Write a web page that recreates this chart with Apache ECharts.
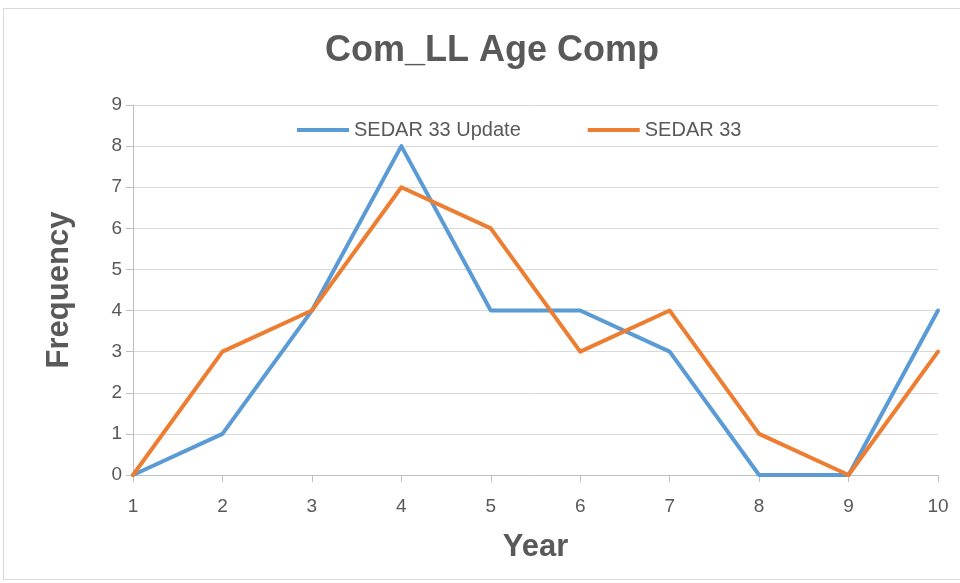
<!DOCTYPE html>
<html>
<head>
<meta charset="utf-8">
<script src="https://cdn.jsdelivr.net/npm/echarts@6/dist/echarts.min.js"></script>
<style>
  html, body { margin: 0; padding: 0; background: #fff; }
  #frame { position: absolute; left: 3px; top: 8px; width: 970px; height: 572px; border: 1px solid #d9d9d9; box-sizing: border-box; }
  #chart { width: 960px; height: 583px; position: absolute; left: 0; top: 0; }
</style>
</head>
<body>
<div id="frame"></div>
<div id="chart"></div>
<script>
var years = ['1', '2', '3', '4', '5', '6', '7', '8', '9', '10'];
var sedarUpdate = [0, 1, 4, 8, 4, 4, 3, 0, 0, 4];
var sedar33 = [0, 3, 4, 7, 6, 3, 4, 1, 0, 3];
var yTicks = [0, 9, 1];

var labelFont = '"Liberation Sans Narrow", "Liberation Sans", sans-serif';
var myChart = echarts.init(document.getElementById('chart'));

var option = {
    animation: false,
    title: {
        text: 'Com_LL Age Comp',
        left: 487,
        top: 28,
        textAlign: 'center',
        textStyle: { fontFamily: 'Liberation Sans', fontSize: 36, fontWeight: 'bold', color: '#595959' }
    },
    legend: {
        top: 115,
        left: 292,
        itemWidth: 52,
        itemHeight: 4,
        itemGap: 67,
        icon: 'rect',
        textStyle: { fontFamily: labelFont, fontSize: 20, color: '#595959' },
        data: ['SEDAR 33 Update', 'SEDAR 33']
    },
    grid: { left: 133, right: 22, top: 105, bottom: 108 },
    xAxis: {
        type: 'category',
        data: years,
        boundaryGap: false,
        name: 'Year',
        nameLocation: 'middle',
        nameGap: 57,
        nameTextStyle: { fontFamily: 'Liberation Sans', fontSize: 31, fontWeight: 'bold', color: '#595959' },
        axisLine: { lineStyle: { color: '#bfbfbf', width: 1 } },
        axisTick: { alignWithLabel: true, length: 7, lineStyle: { color: '#bfbfbf' } },
        axisLabel: { fontFamily: labelFont, fontSize: 19, color: '#595959', margin: 22 },
        splitLine: { show: false }
    },
    yAxis: {
        type: 'value',
        min: yTicks[0],
        max: yTicks[1],
        interval: yTicks[2],
        name: 'Frequency',
        nameLocation: 'middle',
        nameGap: 58,
        nameTextStyle: { fontFamily: 'Liberation Sans', fontSize: 31, fontWeight: 'bold', color: '#595959' },
        axisLine: { show: true, lineStyle: { color: '#bfbfbf', width: 1 } },
        axisTick: { show: true, length: 7, lineStyle: { color: '#bfbfbf' } },
        axisLabel: { fontFamily: labelFont, fontSize: 19, color: '#595959', margin: 11 },
        splitLine: { lineStyle: { color: '#d9d9d9', width: 1 } }
    },
    series: [
        {
            name: 'SEDAR 33 Update',
            type: 'line',
            data: sedarUpdate,
            symbol: 'none',
            itemStyle: { color: '#5b9bd5' },
            lineStyle: { color: '#5b9bd5', width: 4, cap: 'round', join: 'round' }
        },
        {
            name: 'SEDAR 33',
            type: 'line',
            data: sedar33,
            symbol: 'none',
            itemStyle: { color: '#ed7d31' },
            lineStyle: { color: '#ed7d31', width: 4, cap: 'round', join: 'round' }
        }
    ]
};

myChart.setOption(option);
</script>
</body>
</html>
